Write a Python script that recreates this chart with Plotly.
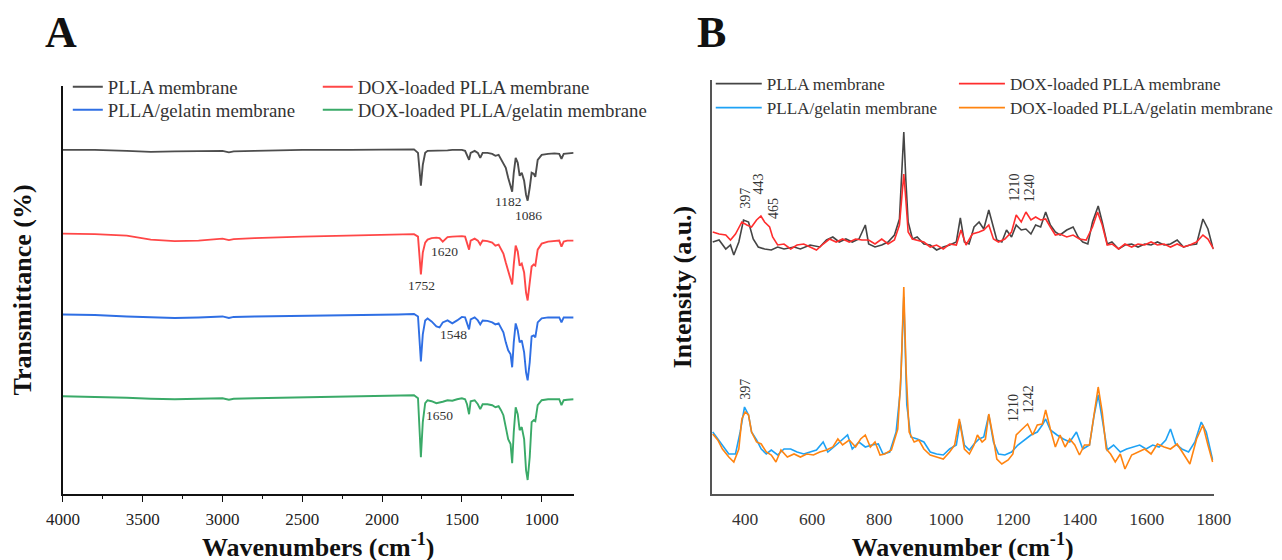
import plotly.graph_objects as go

# ---------------- Panel A : FTIR (transmittance, arbitrary stacked units) ----------------
ftir_wn = [4000, 3800, 3600, 3450, 3300, 3150, 3000, 2960, 2930, 2800, 2500, 2200, 1900, 1800,
           1775, 1757, 1745, 1730, 1715, 1690, 1660, 1640, 1620, 1590, 1560, 1530, 1500, 1480,
           1468, 1455, 1445, 1420, 1400, 1385, 1370, 1340, 1310, 1290, 1270, 1255, 1240, 1225,
           1210, 1195, 1185, 1175, 1163, 1150, 1138, 1125, 1110, 1098, 1088, 1075, 1063, 1050,
           1040, 1025, 1000, 960, 920, 890, 876, 862, 840, 800]

pllA_T = [353, 353, 352, 351, 351.5, 352, 352, 350.5, 351.5, 352, 353, 353, 353.5, 353.5,
          350, 317, 338, 350, 352, 352, 352.5, 352.5, 352.5, 352.5, 353, 353, 353, 352,
          348, 343, 350, 352, 350, 345, 350, 350, 349, 347, 348, 344, 340, 335,
          325, 318, 311, 330, 345, 340, 327, 330, 322, 308, 302, 315, 330, 329,
          326, 343, 348, 349, 349.5, 349, 344, 349, 349.5, 350]

dox_pllA_T = [269, 268.5, 267, 263, 261.5, 262, 264, 262.5, 263.5, 264.5, 266, 267, 268, 268.5,
              266, 228, 250, 260, 263, 264.5, 265, 264.5, 261, 265.5, 266, 266.5, 266.5, 266,
              260, 253, 262, 264, 262, 258, 262, 261.5, 260, 257, 258, 254, 249, 240,
              232, 225, 218, 238, 257, 251, 237, 239, 230, 210, 202, 220, 236, 238,
              237, 253, 259, 261, 262, 262, 256, 261, 262, 262]

pllA_gel_T = [188, 187.5, 186, 185, 184.5, 185, 186, 184.5, 185.5, 186, 186.5, 187, 188, 188.5,
              186, 141, 168, 182, 184, 181, 176, 175, 180, 182, 179, 182, 185.5, 185,
              180, 173, 183, 185, 182, 178, 182, 181.5, 180, 178, 179, 175, 170, 160,
              152, 148, 135, 160, 179, 172, 160, 162, 150, 130, 122, 140, 166, 167,
              165, 180, 184, 185, 185, 185, 180, 185, 185, 185]

dox_pllA_gel_T = [106, 105.5, 104.5, 103.5, 103, 103.5, 104, 102.5, 103.5, 104, 105, 106, 106.5, 107,
                  104, 45, 80, 99, 102, 101, 99, 99.5, 100.5, 102, 101.5, 103, 104, 103,
                  98, 88, 101, 102, 98, 93, 98, 98, 97, 95, 96, 92, 87, 75,
                  63, 58, 39, 70, 95, 88, 72, 75, 63, 32, 22, 45, 80, 82,
                  81, 97, 102, 103, 103, 103, 97, 102, 102.5, 103]

ftir_names = ["PLLA membrane", "DOX-loaded PLLA membrane",
              "PLLA/gelatin membrane", "DOX-loaded PLLA/gelatin membrane"]
ftir_colors = ["#4d4d4d", "#ff4747", "#2f6fe4", "#3aaa68"]
ftir_series = [pllA_T, dox_pllA_T, pllA_gel_T, dox_pllA_gel_T]

ftir_peak_labels = ["1182", "1086", "1620", "1752", "1548", "1650"]
ftir_peak_x = [1209, 1083, 1611, 1756, 1554, 1642]
ftir_peak_y = [301, 287, 251, 217, 168, 87]

ftir_ticks = [4000, 3500, 3000, 2500, 2000, 1500, 1000]

# ---------------- Panel B : Raman (intensity, a.u.) ----------------
ram_top_gray_wn = [303, 322, 342, 356, 366, 381, 395, 410, 424, 439, 458, 478, 497, 516, 546, 565, 594,
                   623, 643, 662, 681, 701, 720, 740, 759, 769, 788, 808, 827, 846, 861, 868, 874,
                   880, 887, 900, 914, 934, 953, 972, 992, 1011, 1031, 1043, 1055, 1069, 1084, 1099,
                   1113, 1128, 1142, 1152, 1167, 1181, 1196, 1210, 1225, 1239, 1254, 1268, 1283, 1298,
                   1312, 1327, 1341, 1361, 1380, 1395, 1409, 1424, 1438, 1455, 1467, 1482, 1496, 1516,
                   1535, 1555, 1574, 1594, 1613, 1632, 1652, 1671, 1691, 1710, 1729, 1749, 1768, 1783,
                   1797, 1800]
ram_top_gray = [260, 262, 253, 257, 247, 260, 282, 280, 263, 255, 253, 252, 255, 253, 255, 253, 257,
                255, 262, 265, 260, 263, 260, 263, 277, 258, 255, 257, 260, 267, 283, 323, 370,
                323, 280, 263, 265, 258, 257, 252, 255, 257, 260, 284, 260, 258, 275, 280,
                273, 292, 273, 262, 260, 272, 265, 277, 272, 273, 268, 277, 275, 290,
                277, 270, 267, 272, 275, 265, 260, 258, 280, 296, 280, 258, 260, 253,
                257, 258, 255, 258, 257, 260, 257, 258, 262, 255, 257, 258, 283, 273,
                255, 253]

ram_top_red_wn = [303, 322, 342, 356, 371, 390, 405, 419, 434, 447, 458, 473, 482, 497, 516, 536, 555,
                  575, 594, 613, 633, 652, 672, 691, 711, 730, 749, 769, 788, 808, 827, 846, 861,
                  868, 874, 880, 887, 900, 914, 934, 953, 972, 992, 1011, 1031, 1045, 1060, 1079,
                  1099, 1113, 1128, 1142, 1157, 1176, 1196, 1210, 1225, 1239, 1254, 1268, 1283, 1298,
                  1312, 1327, 1341, 1361, 1380, 1399, 1419, 1438, 1453, 1467, 1482, 1497, 1516, 1535,
                  1555, 1574, 1594, 1613, 1632, 1652, 1671, 1691, 1710, 1729, 1749, 1768, 1783, 1800]
ram_top_red = [270, 268, 267, 262, 268, 280, 277, 275, 282, 286, 280, 275, 265, 257, 258, 253, 257,
               258, 255, 252, 258, 263, 260, 263, 260, 263, 262, 262, 258, 263, 258, 262, 277,
               303, 328, 303, 270, 263, 262, 260, 255, 257, 253, 258, 257, 272, 257, 268,
               270, 272, 277, 263, 260, 263, 270, 287, 280, 290, 282, 285, 282, 283,
               275, 267, 268, 265, 267, 263, 262, 275, 290, 277, 257, 258, 253, 258,
               255, 258, 257, 260, 257, 258, 255, 258, 255, 257, 260, 267, 263, 253]

ram_bot_blue_wn = [303, 332, 351, 371, 385, 398, 410, 419, 434, 448, 463, 478, 497, 516, 536, 555, 575,
                   594, 613, 633, 647, 672, 706, 720, 740, 759, 778, 798, 812, 832, 851, 864, 874,
                   883, 895, 914, 934, 953, 972, 992, 1011, 1031, 1042, 1055, 1070, 1084, 1099, 1113,
                   1128, 1142, 1157, 1176, 1196, 1215, 1234, 1254, 1273, 1288, 1298, 1312, 1332, 1351,
                   1370, 1390, 1409, 1429, 1443, 1455, 1467, 1482, 1501, 1521, 1540, 1560, 1579, 1598,
                   1618, 1637, 1657, 1671, 1686, 1705, 1725, 1744, 1763, 1778, 1797]
ram_bot_blue = [70, 57, 48, 48, 70, 95, 87, 70, 62, 53, 48, 52, 47, 53, 53, 50, 48,
                50, 52, 60, 50, 57, 67, 53, 60, 55, 57, 58, 48, 50, 70, 113, 205,
                97, 65, 63, 60, 50, 48, 47, 53, 57, 80, 57, 52, 58, 63, 65,
                87, 60, 48, 47, 50, 57, 62, 67, 70, 77, 83, 72, 67, 63,
                60, 70, 53, 57, 87, 107, 83, 52, 57, 50, 53, 55, 57, 53,
                57, 55, 62, 73, 58, 53, 50, 60, 80, 70, 42]

ram_bot_orange_wn = [303, 318, 332, 351, 366, 381, 390, 400, 410, 419, 434, 448, 463, 478, 492, 507, 526,
                     546, 565, 584, 604, 623, 643, 662, 677, 691, 711, 730, 745, 759, 774, 788, 803,
                     817, 837, 856, 866, 874, 881, 890, 905, 919, 934, 953, 972, 992, 1011, 1026,
                     1040, 1055, 1070, 1084, 1094, 1108, 1118, 1128, 1142, 1152, 1167, 1186, 1200, 1210,
                     1225, 1244, 1259, 1273, 1288, 1298, 1312, 1327, 1341, 1356, 1370, 1385, 1399, 1414,
                     1429, 1443, 1455, 1467, 1479, 1492, 1506, 1521, 1535, 1555, 1574, 1594, 1613, 1632,
                     1652, 1671, 1691, 1710, 1729, 1749, 1768, 1783, 1797]
ram_bot_orange = [68, 62, 53, 45, 40, 53, 83, 90, 87, 70, 60, 58, 50, 47, 40, 52, 45,
                  48, 45, 48, 47, 50, 52, 55, 63, 57, 62, 55, 63, 67, 55, 60, 47,
                  48, 52, 73, 130, 215, 130, 70, 60, 62, 53, 47, 45, 43, 50, 57,
                  83, 53, 48, 57, 67, 60, 63, 88, 63, 43, 38, 42, 48, 67,
                  72, 78, 67, 77, 78, 92, 73, 55, 67, 55, 63, 57, 47, 57,
                  57, 90, 115, 90, 53, 48, 40, 48, 33, 47, 50, 53, 48, 58,
                  55, 53, 58, 48, 38, 63, 77, 57, 40]

raman_colors = ["#454545", "#ff2d2d", "#1ea2f5", "#ff8410"]

raman_top_labels = ["397", "443", "465", "1210", "1240"]
raman_top_x = [399, 437, 483, 1202, 1249]
raman_top_y = [304, 318, 294, 314, 314]
raman_bot_labels = ["397", "1210", "1242"]
raman_bot_x = [399, 1200, 1246]
raman_bot_y = [113, 94, 103]

raman_ticks = [400, 600, 800, 1000, 1200, 1400, 1600, 1800]

SERIF = "Liberation Serif, Times New Roman, serif"
W, H = 1282, 560


def px_x(p):
    return p / W


def px_y(p):
    return (H - p) / H


fig = go.Figure()

# one legend per entry so that the 2x2 legend grid can be placed exactly
ftir_legends = ["legend", "legend2", "legend3", "legend4"]
raman_legends = ["legend5", "legend6", "legend7", "legend8"]

for name, col, ser, lg in zip(ftir_names, ftir_colors, ftir_series, ftir_legends):
    fig.add_trace(go.Scatter(x=ftir_wn, y=ser, mode="lines", name=name,
                             line=dict(color=col, width=1.9), legend=lg,
                             xaxis="x", yaxis="y"))

raman_sets = [(ram_top_gray_wn, ram_top_gray), (ram_top_red_wn, ram_top_red),
              (ram_bot_blue_wn, ram_bot_blue), (ram_bot_orange_wn, ram_bot_orange)]
for name, col, (wx, wy), lg in zip(ftir_names, raman_colors, raman_sets, raman_legends):
    fig.add_trace(go.Scatter(x=wx, y=wy, mode="lines", name=name,
                             line=dict(color=col, width=1.6), legend=lg,
                             xaxis="x2", yaxis="y2"))

ann = []
for t, x, y in zip(ftir_peak_labels, ftir_peak_x, ftir_peak_y):
    ann.append(dict(text=t, x=x, y=y, xref="x", yref="y", showarrow=False,
                    font=dict(family=SERIF, size=13.5, color="#333333")))
for t, x, y in zip(raman_top_labels + raman_bot_labels, raman_top_x + raman_bot_x,
                   raman_top_y + raman_bot_y):
    ann.append(dict(text=t, x=x, y=y, xref="x2", yref="y2", showarrow=False, textangle=-90,
                    font=dict(family=SERIF, size=14, color="#333333")))
ann.append(dict(text="<b>A</b>", x=px_x(37), y=px_y(25), xref="paper", yref="paper",
                xanchor="center", yanchor="middle", showarrow=False,
                font=dict(family=SERIF, size=44, color="#111111")))
ann.append(dict(text="<b>B</b>", x=px_x(706), y=px_y(25), xref="paper", yref="paper",
                xanchor="center", yanchor="middle", showarrow=False,
                font=dict(family=SERIF, size=44, color="#111111")))

leg_common = dict(orientation="v", xanchor="left", yanchor="top", bgcolor="rgba(0,0,0,0)",
                  borderwidth=0, itemclick=False, itemdoubleclick=False)
fontA = dict(family=SERIF, size=18.8, color="#333")
fontB = dict(family=SERIF, size=17.1, color="#333")

A_col = [44, 301]
B_col = [705, 955]
A_row = [60, 83]
B_row = [58, 82]

TITLE_FONT = dict(family=SERIF, size=26, color="#111")

fig.update_layout(
    width=W, height=H, margin=dict(l=0, r=0, t=0, b=0),
    paper_bgcolor="white", plot_bgcolor="white",
    font=dict(family=SERIF, color="#222222"),
    xaxis=dict(domain=[px_x(39), px_x(564)], range=[4000, 800], anchor="y",
               tickvals=ftir_ticks, ticks="outside", ticklen=6, tickwidth=1.2, tickcolor="#111",
               minor=dict(dtick=250, ticks="outside", ticklen=3, tickcolor="#111", tickwidth=1),
               showline=True, linecolor="#111111", linewidth=1.6, showgrid=False, zeroline=False,
               tickfont=dict(family=SERIF, size=17, color="#222"), ticklabelstandoff=3,
               title=dict(text="<b>Wavenumbers (cm<sup>-1</sup>)</b>", standoff=0, font=TITLE_FONT)),
    yaxis=dict(domain=[px_y(486), px_y(78)], range=[8, 417], anchor="x",
               showline=True, linecolor="#111111", linewidth=1.6, showgrid=False, zeroline=False,
               showticklabels=False, ticks="",
               title=dict(text="<b>Transmittance (%)</b>", standoff=22, font=TITLE_FONT)),
    xaxis2=dict(domain=[px_x(706), px_x(1222)], range=[300, 1800], anchor="y2",
                tickvals=raman_ticks, ticks="",
                showline=True, linecolor="#555555", linewidth=2, showgrid=False, zeroline=False,
                tickfont=dict(family=SERIF, size=17.5, color="#333"), ticklabelstandoff=8,
                title=dict(text="<b>Wavenumber (cm<sup>-1</sup>)</b>", standoff=5, font=TITLE_FONT)),
    yaxis2=dict(domain=[px_y(486), px_y(72)], range=[8, 422], anchor="x2",
                showline=True, linecolor="#555555", linewidth=2, showgrid=False, zeroline=False,
                showticklabels=False, ticks="",
                title=dict(text="<b>Intensity (a.u.)</b>", standoff=11, font=TITLE_FONT)),
    legend=dict(x=px_x(A_col[0]), y=px_y(A_row[0]), font=fontA, **leg_common),
    legend2=dict(x=px_x(A_col[1]), y=px_y(A_row[0]), font=fontA, **leg_common),
    legend3=dict(x=px_x(A_col[0]), y=px_y(A_row[1]), font=fontA, **leg_common),
    legend4=dict(x=px_x(A_col[1]), y=px_y(A_row[1]), font=fontA, **leg_common),
    legend5=dict(x=px_x(B_col[0]), y=px_y(B_row[0]), font=fontB, itemwidth=46, **leg_common),
    legend6=dict(x=px_x(B_col[1]), y=px_y(B_row[0]), font=fontB, itemwidth=46, **leg_common),
    legend7=dict(x=px_x(B_col[0]), y=px_y(B_row[1]), font=fontB, itemwidth=46, **leg_common),
    legend8=dict(x=px_x(B_col[1]), y=px_y(B_row[1]), font=fontB, itemwidth=46, **leg_common),
    annotations=ann,
    showlegend=True,
)

fig.write_html("out.html")
